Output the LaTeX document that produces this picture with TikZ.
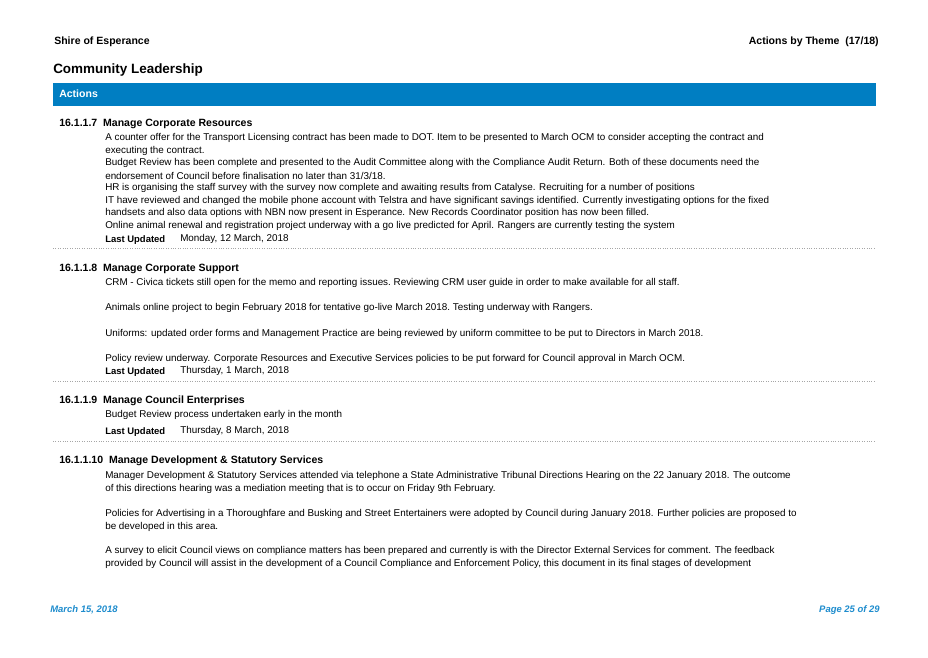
\documentclass[tikz,border=0pt]{standalone}
\usepackage{fontspec}
\setmainfont{Liberation Sans}
\definecolor{barblue}{RGB}{0,126,194}
\definecolor{footblue}{RGB}{30,140,205}
\tikzset{
  body/.style={anchor=west,inner sep=0pt,font=\fontsize{7.4}{8}\selectfont},
  headline/.style={anchor=west,inner sep=0pt,font=\fontsize{7.9}{8}\selectfont\bfseries},
  updated/.style={anchor=west,inner sep=0pt,font=\fontsize{7.1}{8}\selectfont\bfseries},
  sepline/.style={gray!70,line width=0.5pt,dash pattern=on 0.6pt off 1.2pt},
}
\begin{document}
\begin{tikzpicture}[x=0.75pt,y=0.75pt,yscale=-1,xscale=1]
\useasboundingbox (0,0) rectangle (928,657);

% Page header
\node[headline] (shire) at (54,42) {Shire of Esperance};
\node[headline,anchor=east] (theme) at (879,42) {Actions by Theme\ \ (17/18)};
\node[headline,font=\fontsize{10.1}{11}\selectfont\bfseries] (title) at (53,70) {Community Leadership};

% Blue bar
\fill[barblue] (53,83) rectangle (876,106);
\node[headline,text=white] (actions) at (59,94) {Actions};

% 16.1.1.7
\node[headline] (h7) at (59,124) {16.1.1.7\ \ Manage Corporate Resources};
\node[body] (a1) at (105,138) {A counter offer for the Transport Licensing contract has been made to DOT. Item to be presented to March OCM to consider accepting the contract and};
\node[body] (a2) at (105,151) {executing the contract.};
\node[body] (a3) at (105,163) {Budget Review has been complete and presented to the Audit Committee along with the Compliance Audit Return. Both of these documents need the};
\node[body] (a4) at (105,176) {endorsement of Council before finalisation no later than 31/3/18.};
\node[body] (a5) at (105,188) {HR is organising the staff survey with the survey now complete and awaiting results from Catalyse. Recruiting for a number of positions};
\node[body] (a6) at (105,201) {IT have reviewed and changed the mobile phone account with Telstra and have significant savings identified. Currently investigating options for the fixed};
\node[body] (a7) at (105,213) {handsets and also data options with NBN now present in Esperance. New Records Coordinator position has now been filled.};
\node[body] (a8) at (105,226) {Online animal renewal and registration project underway with a go live predicted for April. Rangers are currently testing the system};
\node[updated] (u7) at (105,240) {Last Updated};
\node[body] (d7) at (180,239) {Monday, 12 March, 2018};
\draw[sepline] (53,248) -- (876,248);

% 16.1.1.8
\node[headline] (h8) at (59,269) {16.1.1.8\ \ Manage Corporate Support};
\node[body] (b1) at (105,283) {CRM - Civica tickets still open for the memo and reporting issues.\ Reviewing CRM user guide in order to make available for all staff.};
\node[body] (b2) at (105,308) {Animals online project to begin February 2018 for tentative go-live March 2018.\ Testing underway with Rangers.};
\node[body] (b3) at (105,334) {Uniforms: updated order forms and Management Practice are being reviewed by uniform committee to be put to Directors in March 2018.};
\node[body] (b4) at (105,359) {Policy review underway. Corporate Resources and Executive Services policies to be put forward for Council approval in March OCM.};
\node[updated] (u8) at (105,372) {Last Updated};
\node[body] (d8) at (180,371) {Thursday, 1 March, 2018};
\draw[sepline] (53,381) -- (876,381);

% 16.1.1.9
\node[headline] (h9) at (59,401) {16.1.1.9\ \ Manage Council Enterprises};
\node[body] (c1) at (105,415) {Budget Review process undertaken early in the month};
\node[updated] (u9) at (105,432) {Last Updated};
\node[body] (d9) at (180,431) {Thursday, 8 March, 2018};
\draw[sepline] (53,441) -- (876,441);

% 16.1.1.10
\node[headline] (h10) at (59,461) {16.1.1.10\ \ Manage Development \& Statutory Services};
\node[body] (e1) at (105,476) {Manager Development \& Statutory Services attended via telephone a State Administrative Tribunal Directions Hearing on the\ 22 January 2018. The outcome};
\node[body] (e2) at (105,489) {of this directions hearing was a mediation meeting that is to occur on Friday 9th February.};
\node[body] (e3) at (105,514) {Policies for Advertising in a Thoroughfare and Busking and Street Entertainers were adopted by Council during January\ 2018. Further policies are proposed to};
\node[body] (e4) at (105,527) {be developed in this area.};
\node[body] (e5) at (105,551) {A survey to elicit Council views on compliance matters has been prepared and currently is with the Director External Services for comment. The feedback};
\node[body] (e6) at (105,564) {provided by Council will assist in the development of a Council Compliance and Enforcement Policy, this document in its final stages of development};

% Page footer
\node[headline,text=footblue,font=\fontsize{7.1}{8}\selectfont\bfseries\itshape] (date) at (50,610) {March 15, 2018};
\node[headline,anchor=east,text=footblue,font=\fontsize{7.1}{8}\selectfont\bfseries\itshape] (page) at (880,610) {Page 25 of 29};
\end{tikzpicture}
\end{document}
